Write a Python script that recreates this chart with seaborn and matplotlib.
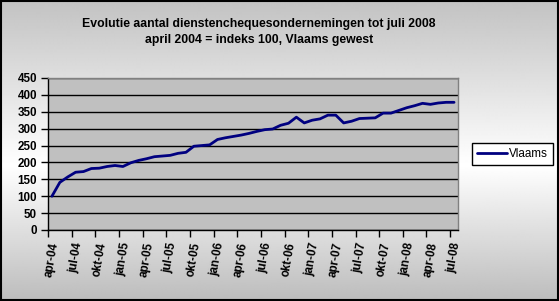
import numpy as np
import pandas as pd
import matplotlib
matplotlib.use("Agg")
import matplotlib.pyplot as plt
import seaborn as sns
from matplotlib.patches import Rectangle

# ---- data ----
months = ["apr-04", "mei-04", "jun-04", "jul-04", "aug-04", "sep-04", "okt-04", "nov-04", "dec-04",
          "jan-05", "feb-05", "mrt-05", "apr-05", "mei-05", "jun-05", "jul-05", "aug-05", "sep-05",
          "okt-05", "nov-05", "dec-05", "jan-06", "feb-06", "mrt-06", "apr-06", "mei-06", "jun-06",
          "jul-06", "aug-06", "sep-06", "okt-06", "nov-06", "dec-06", "jan-07", "feb-07", "mrt-07",
          "apr-07", "mei-07", "jun-07", "jul-07", "aug-07", "sep-07", "okt-07", "nov-07", "dec-07",
          "jan-08", "feb-08", "mrt-08", "apr-08", "mei-08", "jun-08", "jul-08"]
vlaams = [100, 141, 157, 171, 173, 182, 183, 188, 191, 188, 199, 206, 211, 217, 219, 221, 227, 230,
          248, 250, 252, 268, 273, 277, 281, 286, 292, 297, 299, 310, 316, 334, 317, 325, 329, 340,
          340, 317, 322, 330, 331, 332, 346, 346, 354, 362, 368, 375, 372, 376, 378, 378]
series_name = "Vlaams"
title = "Evolutie aantal dienstenchequesondernemingen tot juli 2008\napril 2004 = indeks 100, Vlaams gewest"
yticks = [0, 50, 100, 150, 200, 250, 300, 350, 400, 450]

df = pd.DataFrame({"idx": np.arange(len(months)), "value": vlaams, "serie": series_name})

sns.set_theme(style="white")
plt.rcParams["font.family"] = ["Liberation Sans", "DejaVu Sans"]
plt.rcParams["text.color"] = "black"
plt.rcParams["xtick.color"] = "black"
plt.rcParams["ytick.color"] = "black"

W, H = 559, 301
fig = plt.figure(figsize=(W / 100, H / 100), dpi=100)

# background gradient
bg = fig.add_axes([0, 0, 1, 1], zorder=-10)
yy = np.linspace(0, 1, 301)
vals = np.interp(yy, [0, 0.55, 1], [0.76, 1.0, 0.74])
grad = np.repeat(vals[:, None], 2, axis=1)
bg.imshow(grad, aspect="auto", cmap="gray", vmin=0, vmax=1, extent=[0, 1, 0, 1],
          origin="upper", interpolation="bilinear")
bg.set_axis_off()
fig.patches.append(Rectangle((0.5 / W, 1 / H), 1 - 1.5 / W, 1 - 1.8 / H, transform=fig.transFigure,
                             fill=False, edgecolor="black", linewidth=1.5, zorder=100))

left, right, top, bottom = 48 / W, 458 / W, 78 / H, 230 / H
ax = fig.add_axes([left, 1 - bottom, right - left, bottom - top])
ax.set_facecolor("#c0c0c0")

sns.lineplot(data=df, x="idx", y="value", hue="serie", palette=["#000080"], linewidth=2, ax=ax)

ax.set_xlim(-0.5, len(months) - 0.5)
ax.set_ylim(0, 450)
ax.set_yticks(yticks)
ax.set_yticklabels([str(v) for v in yticks], fontsize=8.4, fontweight="bold")
ax.yaxis.grid(True, color="black", linewidth=1)
ax.set_axisbelow(True)

ax.set_xticks(np.arange(-0.5, len(months), 3))
ax.set_xticklabels([])
ax.set_xticks(np.arange(0, len(months), 3), minor=True)
ax.set_xticklabels([months[i] for i in range(0, len(months), 3)], minor=True,
                   rotation=80, fontsize=8.4, fontweight="bold")
ax.tick_params(axis="x", which="major", length=5, width=1, color="black", direction="out", bottom=True)
ax.tick_params(axis="x", which="minor", length=0, pad=8, bottom=True)
ax.tick_params(axis="y", length=5, width=1, color="black", direction="out", left=True, pad=3)
ax.set_xlabel("")
ax.set_ylabel("")

for s in ["top", "right"]:
    ax.spines[s].set_color("#808080")
    ax.spines[s].set_linewidth(1)
for s in ["left", "bottom"]:
    ax.spines[s].set_color("black")
    ax.spines[s].set_linewidth(1)

fig.text(259 / W, 1 - 32 / H, title, ha="center", va="center", fontsize=8.8, fontweight="bold",
         linespacing=1.35)

ax.legend(loc="center left", bbox_to_anchor=(472 / W, 1 - 154 / H), bbox_transform=fig.transFigure,
          frameon=True, fancybox=False, edgecolor="black", facecolor="white", framealpha=1,
          fontsize=8.4, handlelength=2.6, borderpad=0.4, handletextpad=0.2, borderaxespad=0)
ax.get_legend().get_frame().set_linewidth(1)

fig.savefig("out.png", dpi=100)
